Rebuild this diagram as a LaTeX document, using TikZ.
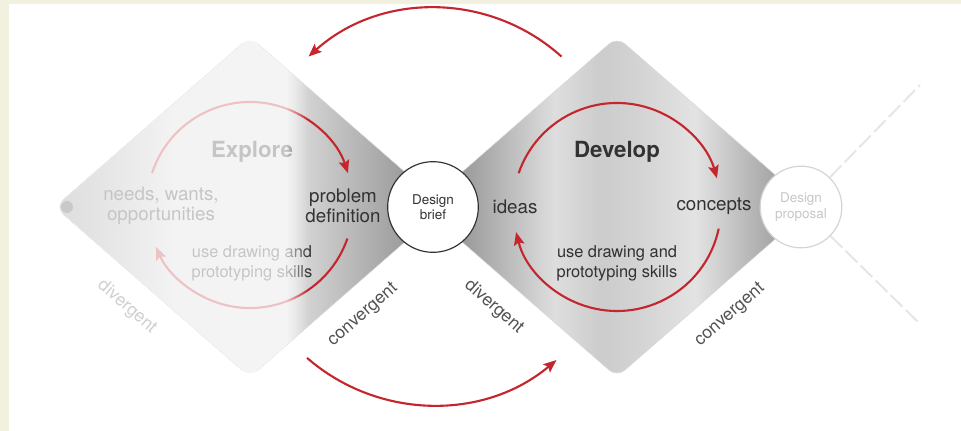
\documentclass[tikz,border=0pt]{standalone}
\usepackage{fontspec}
\setmainfont{TeX Gyre Heros}
\usetikzlibrary{arrows.meta,positioning,fadings}

\definecolor{creambg}{RGB}{242,240,222}
\definecolor{loopred}{RGB}{196,38,46}
\definecolor{inkgrey}{RGB}{50,50,50}
\definecolor{palegrey}{RGB}{208,208,208}

% metal look of the two stages (path box = 25bp .. 75bp)
\pgfdeclarehorizontalshading{developmetal}{100bp}{color(0bp)=(black!48); color(25bp)=(black!48); color(30bp)=(black!40); color(42bp)=(black!13); color(48bp)=(black!20); color(53bp)=(black!17); color(60bp)=(black!11); color(67bp)=(black!28); color(75bp)=(black!46); color(100bp)=(black!46)}
\pgfdeclarehorizontalshading{exploremetal}{100bp}{color(0bp)=(black!48); color(25bp)=(black!48); color(40bp)=(black!17); color(52bp)=(black!14); color(56bp)=(black!15); color(61bp)=(black!24); color(67bp)=(black!34); color(75bp)=(black!48); color(100bp)=(black!48)}

\tikzfading[name=mistfade, left color=transparent!0, right color=transparent!100]

\begin{document}
\begin{tikzpicture}[x=0.03cm, y=0.03cm]
		\tikzstyle{stagetitle}=[font=\fontsize{19}{21}\selectfont\bfseries, text=inkgrey]
		\tikzstyle{stagetext}=[font=\fontsize{16}{17}\selectfont, text=inkgrey, align=center]
		\tikzstyle{skilltext}=[font=\fontsize{14}{17}\selectfont, text=inkgrey, align=center]
		\tikzstyle{phasetext}=[font=\fontsize{15}{17}\selectfont, text=black!68]
		\tikzstyle{redloop}=[draw=loopred, line width=1.8pt, -{Stealth[length=11pt, width=9pt, inset=2pt]}]
		\tikzstyle{milestone}=[circle, fill=white, inner sep=0pt, align=center, font=\fontsize{11.5}{13}\selectfont]
		\tikzstyle{trail}=[draw=black!10, line width=1.6pt, dash pattern=on 14pt off 4pt]
		
		% Background
		\fill[creambg] (0,0) rectangle (961,-431);
		\fill[white] (9,-4) rectangle (961,-431);
		\useasboundingbox (0,0) rectangle (961,-431);
		
		% Diamonds
		\shade[shading=exploremetal, draw=black!15, rounded corners=9pt] (55,-207) -- (250,-37) -- (445,-207) -- (250,-377) -- cycle;
		\shade[shading=developmetal, draw=black!15, rounded corners=9pt] (422,-207) -- (617,-37) -- (812,-207) -- (617,-377) -- cycle;
		\coordinate (explorecentre) at (250,-205);
		\coordinate (developcentre) at (617,-207);
		
		% Explore
		\node[circle, fill=black!75, minimum size=0.36cm, inner sep=0pt] (startdot) at (67,-207) {};
		\draw[redloop] ([shift={(162:103)}]explorecentre) arc (162:18:103);
		\draw[redloop] ([shift={(-19:103)}]explorecentre) arc (-19:-156:103);
		\node[stagetitle] (exploretitle) at (252,-152) {Explore};
		\node[stagetext] (needs) at (161,-206) {needs, wants,\\opportunities};
		\node[stagetext] (problem) at (343,-206) {problem\\definition};
		\node[skilltext] (exploreskills) at (252,-263) {use drawing and\\prototyping skills};
		
		% haze over the left part of Explore
		\begin{scope}
		\clip (55,-207) -- (250,-37) -- (445,-207) -- (250,-377) -- cycle;
		\fill[white, fill opacity=0.72] (40,-20) rectangle (286,-395);
		\fill[white, fill opacity=0.72, path fading=mistfade] (286,-20) rectangle (308,-395);
		\end{scope}
		
		% Develop
		\draw[redloop] ([shift={(161:104)}]developcentre) arc (161:16:104);
		\draw[redloop] ([shift={(-12:104)}]developcentre) arc (-12:-166:104);
		\node[stagetitle] (developtitle) at (617,-152) {Develop};
		\node[stagetext] (ideas) at (515,-207) {ideas};
		\node[stagetext] (concepts) at (714,-206) {concepts};
		\node[skilltext] (developskills) at (617,-263) {use drawing and\\prototyping skills};
		
		% Milestones
		\node[milestone, draw=inkgrey, line width=1pt, minimum size=2.72cm, text=inkgrey] (brief) at (433,-207) {Design\\brief};
		\node[milestone, draw=black!17, line width=1pt, minimum size=2.45cm, text=black!22] (proposal) at (801,-207) {Design\\proposal};
		\coordinate (trailup) at (920,-85);
		\coordinate (traildown) at (918,-322);
		\draw[trail] (proposal) -- (trailup);
		\draw[trail] (proposal) -- (traildown);
		
		% Loops between the stages
		\coordinate (toppivot) at (435,-197);
		\coordinate (lowpivot) at (433,-213);
		\draw[redloop] ([shift={(48:189)}]toppivot) arc (48:132:189);
		\draw[redloop] ([shift={(-131:192)}]lowpivot) arc (-131:-50:192);
		
		% Text
		\node[phasetext, text=palegrey, rotate=-41] (divexplore) at (127,-307) {divergent};
		\node[phasetext, rotate=41] (convexplore) at (363,-315) {convergent};
		\node[phasetext, rotate=-41] (divdevelop) at (494,-307) {divergent};
		\node[phasetext, rotate=41] (convdevelop) at (730,-315) {convergent};
\end{tikzpicture}
\end{document}
